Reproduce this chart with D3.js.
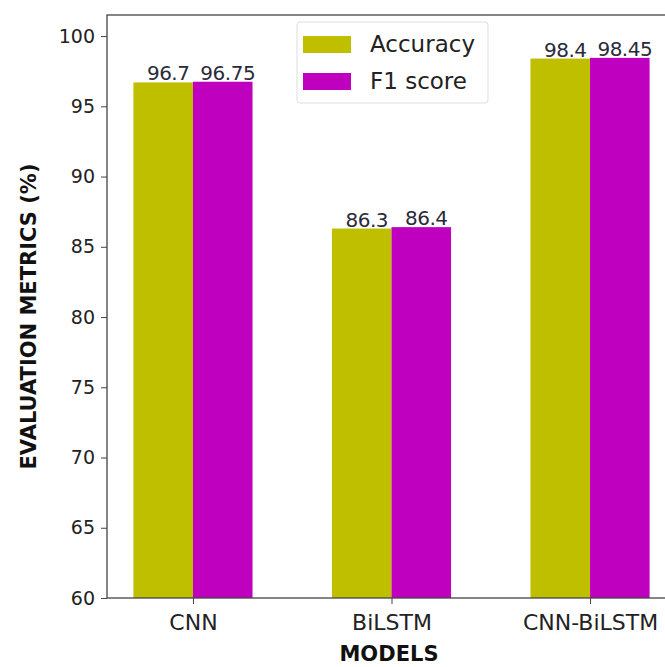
<!DOCTYPE html>
<html>
<head>
<meta charset="utf-8">
<script src="https://cdn.jsdelivr.net/npm/d3@7"></script>
<style>
  html, body { margin: 0; padding: 0; background: #fff; }
  svg { display: block; font-family: "DejaVu Sans", sans-serif; }
</style>
</head>
<body>
<svg id="chart" width="665" height="667"></svg>
<script>
// Model names and their scores (%)
const models = ["CNN", "BiLSTM", "CNN-BiLSTM"];
const accuracy = [96.7, 86.3, 98.4];
const f1score = [96.75, 86.4, 98.45];
const accuracyLabels = ["96.7", "86.3", "98.4"];
const f1Labels = ["96.75", "86.4", "98.45"];
const yTicks = [60, 65, 70, 75, 80, 85, 90, 95, 100];
const seriesNames = ["Accuracy", "F1 score"];
const seriesColors = ["#bfbf00", "#bf00bf"];

const svg = d3.select("#chart");
const frame = { left: 107, right: 676, top: 15, bottom: 598 };
const barWidth = 0.3;

const x = d3.scaleLinear().domain([-0.433, 2.433]).range([frame.left, frame.right]);
const y = d3.scaleLinear().domain([60, 101.5]).range([frame.bottom, frame.top]);

const series = [
  { name: seriesNames[0], values: accuracy, labels: accuracyLabels, color: seriesColors[0], offset: -barWidth / 2 },
  { name: seriesNames[1], values: f1score, labels: f1Labels, color: seriesColors[1], offset: barWidth / 2 }
];

// Bars
series.forEach(s => {
  svg.append("g").selectAll("rect")
    .data(s.values)
    .join("rect")
    .attr("x", (d, i) => x(i + s.offset - barWidth / 2))
    .attr("width", x(barWidth) - x(0))
    .attr("y", d => y(d))
    .attr("height", d => y(60) - y(d))
    .attr("fill", s.color);

  // Value labels sitting on top of each bar
  svg.append("g").selectAll("text")
    .data(s.values)
    .join("text")
    .attr("x", (d, i) => x(i + s.offset) + 5)
    .attr("y", d => y(d) - 2)
    .attr("text-anchor", "middle")
    .attr("font-size", 20)
    .attr("letter-spacing", "-0.5")
    .attr("fill", "#2a2a3a")
    .text((d, i) => s.labels[i]);
});

// Axes
const yAxis = d3.axisLeft(y).tickValues(yTicks).tickSize(6).tickPadding(6);
const gy = svg.append("g").attr("transform", `translate(${frame.left},0)`).call(yAxis);
gy.select(".domain").remove();
gy.selectAll("text").attr("font-size", 19).attr("font-family", "DejaVu Sans").attr("fill", "#222");
gy.selectAll("line").attr("stroke", "#444");

const xAxis = d3.axisBottom(x).tickValues([0, 1, 2]).tickFormat(i => models[i]).tickSize(6).tickPadding(10);
const gx = svg.append("g").attr("transform", `translate(0,${frame.bottom})`).call(xAxis);
gx.select(".domain").remove();
gx.selectAll("text").attr("font-size", 22).attr("font-family", "DejaVu Sans").attr("fill", "#222");
gx.selectAll("line").attr("stroke", "#444");

// Plot frame
svg.append("rect")
  .attr("x", frame.left).attr("y", frame.top)
  .attr("width", frame.right - frame.left).attr("height", frame.bottom - frame.top)
  .attr("fill", "none").attr("stroke", "#444").attr("stroke-width", 1.3);

// Axis titles
svg.append("text")
  .attr("x", 389).attr("y", 661)
  .attr("text-anchor", "middle").attr("font-weight", "bold").attr("font-size", 21)
  .attr("fill", "#111").text("MODELS");

svg.append("text")
  .attr("transform", `translate(36,${(frame.top + frame.bottom) / 2 + 10}) rotate(-90)`)
  .attr("text-anchor", "middle").attr("font-weight", "bold").attr("font-size", 21)
  .attr("fill", "#111").text("EVALUATION METRICS (%)");

// Legend
const legend = svg.append("g").attr("transform", "translate(297,22)");
legend.append("rect")
  .attr("width", 191).attr("height", 81).attr("rx", 3)
  .attr("fill", "#fff").attr("fill-opacity", 0.8).attr("stroke", "#ddd");
series.forEach((s, i) => {
  const row = legend.append("g").attr("transform", `translate(0,${14 + i * 37})`);
  row.append("rect").attr("x", 6).attr("y", 0).attr("width", 48).attr("height", 17).attr("fill", s.color);
  row.append("text").attr("x", 73).attr("y", 16).attr("font-size", 23).attr("fill", "#222").text(s.name);
});
</script>
</body>
</html>
